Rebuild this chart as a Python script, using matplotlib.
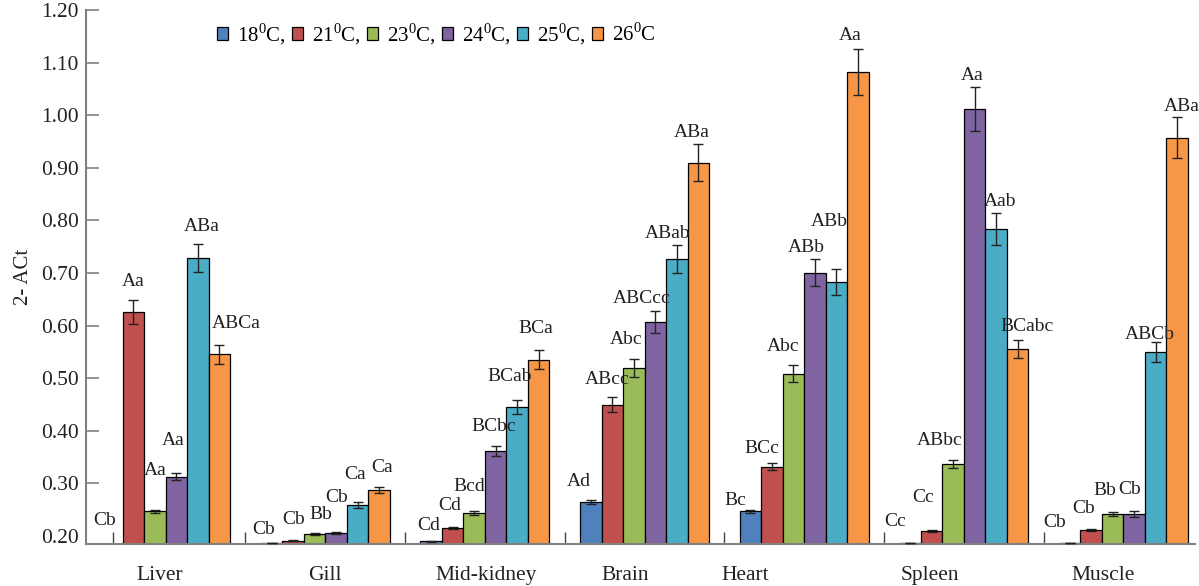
import numpy as np
import matplotlib.pyplot as plt

plt.rcParams['font.family'] = 'Liberation Serif'
plt.rcParams['mathtext.fontset'] = 'custom'
plt.rcParams['mathtext.rm'] = 'Liberation Serif'

tissues = ["Liver", "Gill", "Mid-kidney", "Brain", "Heart", "Spleen", "Muscle"]
temps = ["18", "21", "23", "24", "25", "26"]
colors = ["#4F81BD", "#C0504D", "#9BBB59", "#8064A2", "#4BACC6", "#F79646"]

# bar heights (2-ACt), one list per temperature, tissues in order
t18 = [0.0, 0.186, 0.190, 0.265, 0.247, 0.186, 0.186]
t21 = [0.626, 0.191, 0.216, 0.450, 0.332, 0.2095, 0.211]
t23 = [0.2475, 0.204, 0.244, 0.519, 0.509, 0.337, 0.242]
t24 = [0.313, 0.206, 0.362, 0.607, 0.701, 1.012, 0.242]
t25 = [0.729, 0.259, 0.446, 0.727, 0.6835, 0.784, 0.550]
t26 = [0.546, 0.2875, 0.535, 0.910, 1.0815, 0.555, 0.957]

# error bars
e18 = [0, 0, 0.001, 0.004, 0.003, 0, 0]
e21 = [0.023, 0.001, 0.002, 0.014, 0.007, 0.002, 0.002]
e23 = [0.003, 0.002, 0.003, 0.017, 0.0165, 0.007, 0.004]
e24 = [0.006, 0.002, 0.0095, 0.021, 0.025, 0.042, 0.005]
e25 = [0.027, 0.005, 0.013, 0.027, 0.025, 0.030, 0.019]
e26 = [0.018, 0.005, 0.018, 0.036, 0.044, 0.017, 0.039]

# significance letters, one list per tissue (18..26 C)
letters = [
    ["Cb", "Aa", "Aa", "Aa", "ABa", "ABCa"],
    ["Cb", "Cb", "Bb", "Cb", "Ca", "Ca"],
    ["Cd", "Cd", "Bcd", "BCbc", "BCab", "BCa"],
    ["Ad", "ABcc", "Abc", "ABCcc", "ABab", "ABa"],
    ["Bc", "BCc", "Abc", "ABb", "ABb", "Aa"],
    ["Cc", "Cc", "ABbc", "Aa", "Aab", "BCabc"],
    ["Cb", "Cb", "Bb", "Cb", "ABCb", "ABa"],
]
# where the letters sit: height (axis units) and shift in bar widths
letter_y = [
    [0.230, 0.683, 0.325, 0.381, 0.788, 0.605],
    [0.213, 0.232, 0.241, 0.273, 0.317, 0.330],
    [0.221, 0.259, 0.295, 0.409, 0.503, 0.594],
    [0.303, 0.498, 0.573, 0.652, 0.775, 0.967],
    [0.268, 0.367, 0.560, 0.748, 0.798, 1.152],
    [0.227, 0.274, 0.382, 1.076, 0.835, 0.599],
    [0.225, 0.253, 0.286, 0.289, 0.584, 1.017],
]
letter_dx = [
    [-0.33, 0.0, 0.0, -0.16, 0.17, 0.8],
    [-0.35, 0.04, 0.28, 0.03, -0.12, 0.12],
    [-0.13, -0.16, -0.24, -0.08, -0.33, -0.13],
    [-0.55, -0.26, -0.37, -0.63, -0.44, -0.3],
    [-0.71, -0.47, -0.5, -0.41, -0.33, -0.34],
    [-0.7, -0.39, -0.6, -0.11, 0.19, 0.44],
    [-0.68, -0.33, -0.35, -0.19, -0.26, 0.23],
]
label_x = [-0.04, 1.0, 2.01, 2.88, 3.63, 4.79, 5.87]
bounds = [-0.33, 0.5, 1.5, 2.5, 3.5, 4.5, 5.5]

means = [t18, t21, t23, t24, t25, t26]
errs = [e18, e21, e23, e24, e25, e26]

fig = plt.figure(figsize=(11.99, 5.86), dpi=100)
ax = fig.add_axes([0.0717, 0.0717, 0.925, 0.9113])

w = 0.1347
x = np.arange(len(tissues))
for j in range(6):
    xs = x + (j - 2.5) * w
    ax.bar(xs, means[j], w, color=colors[j], edgecolor='black', linewidth=0.9,
           label=f"{temps[j]}$^{{0}}$C" + ("," if j < 5 else ""), zorder=2)
    ax.errorbar(xs, means[j], yerr=errs[j], fmt='none', ecolor='#222222',
                elinewidth=1, capsize=3.5, capthick=1, zorder=3)
    for i in range(len(tissues)):
        ax.text(xs[i] + letter_dx[i][j] * w, letter_y[i][j], letters[i][j],
                ha='center', va='center', fontsize=14, color='#222222')

ax.set_xlim(-0.4994, 6.449)
ax.set_ylim(0.185, 1.20)
ax.set_yticks(np.arange(0.2, 1.21, 0.1))
ax.set_yticklabels([f"{v:.2f}" for v in np.arange(0.2, 1.21, 0.1)])
ax.set_xticks(label_x)
ax.set_xticklabels(tissues)
ax.set_xticks(bounds, minor=True)

for s in ['top', 'right']:
    ax.spines[s].set_visible(False)
for s in ['left', 'bottom']:
    ax.spines[s].set_color('#808080')
    ax.spines[s].set_linewidth(1.5)

ax.tick_params(axis='y', direction='in', length=9, width=1.2, color='#808080',
               labelsize=15.5, pad=5, labelcolor='#222222')
ax.yaxis.get_major_ticks()[0].tick1line.set_visible(False)
ax.tick_params(axis='x', which='major', length=0, labelsize=15.5, pad=16,
               labelcolor='#222222')
ax.tick_params(axis='x', which='minor', direction='in', length=9, width=1,
               color='#444444')
ax.set_ylabel("2- ACt", fontsize=15, color='#222222', labelpad=6)

ax.legend(loc='upper left', bbox_to_anchor=(0.181, 0.964),
          bbox_transform=fig.transFigure, ncol=6, frameon=False, fontsize=15,
          handlelength=0.55, handleheight=0.55, handletextpad=0.4,
          columnspacing=0.3, borderpad=0, borderaxespad=0)

fig.savefig("out.png", dpi=100)
